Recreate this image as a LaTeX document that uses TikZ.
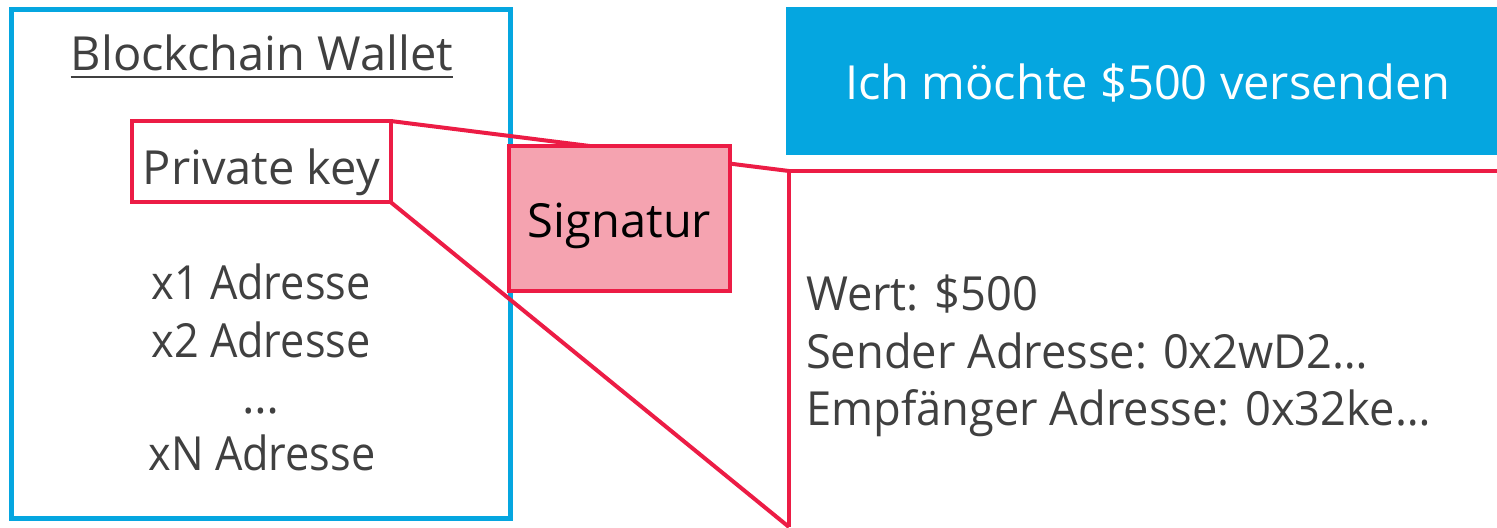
\documentclass[tikz,border=0pt]{standalone}
\usepackage{fontspec}
\setmainfont{Open Sans}

\definecolor{walletblue}{HTML}{05A6E0}
\definecolor{keyred}{HTML}{EC1C45}
\definecolor{signpink}{HTML}{F5A3B0}
\definecolor{textgray}{HTML}{404040}

\begin{document}
\begin{tikzpicture}[x=0.5pt,y=-0.5pt,
    bigfont/.style={font=\fontsize{23.5}{28.5}\selectfont},
    plaintext/.style={bigfont,text=textgray,inner sep=0pt,outer sep=0pt},
    redframe/.style={draw=keyred,line width=2pt,inner sep=0pt,outer sep=0pt},
    redline/.style={keyred,line width=2pt}]

%% - Page size
%% - --------------------------------------

\useasboundingbox (0,0) rectangle (1497,527);

%% - Draw wallet
%% - --------------------------------------

\node[draw=walletblue,line width=2.5pt,minimum width=249.5pt,minimum height=254.75pt,inner sep=0pt,outer sep=0pt] (wallet) at (261,263.75) {};

\node[plaintext,anchor=base] (title) at (262,70) {Blockchain Wallet};
\draw[textgray,line width=1pt] ([yshift=-3.3pt]title.base west) -- ([yshift=-3.3pt]title.base east);

%% - private key box
\node[redframe,plaintext,minimum width=129.25pt,minimum height=40.5pt,text height=22.5pt,text depth=0pt] (key) at (261.25,161.5) {Private key};

%% - addresses
\node[plaintext,anchor=base,xscale=0.92] (addr1) at (261,299) {x1 Adresse};
\node[plaintext,anchor=base,xscale=0.92] (addr2) at (261,357) {x2 Adresse};
\node[plaintext,anchor=base] (dots) at (261,413) {…};
\node[plaintext,anchor=base,xscale=0.92] (addrN) at (262,470) {xN Adresse};

%% - Draw request
%% - --------------------------------------

\node[fill=walletblue,bigfont,text=white,minimum width=362pt,minimum height=74pt,inner sep=0pt,text height=18pt,text depth=0pt] (request) at (1148,81) {Ich möchte \$500 versenden};

%% - Draw transaction details
%% - --------------------------------------

\coordinate (detail top) at (789,171);
\coordinate (detail bottom) at (789,527);
\draw[redline] (1510,171) -- (detail top) -- (detail bottom);

\node[plaintext,anchor=base west,xscale=0.963] (value) at (806,310) {Wert: \$500};
\node[plaintext,anchor=base west,xscale=0.963] (sender) at (806,368) {Sender Adresse: 0x2wD2…};
\node[plaintext,anchor=base west,xscale=0.963] (receiver) at (806,425) {Empfänger Adresse: 0x32ke…};

%% - Draw zoom lines
%% - --------------------------------------

\draw[redline] (key.north east) -- (detail top);
\draw[redline] (key.south east) -- (detail bottom);

%% - Signature box
%% - --------------------------------------

\node[redframe,fill=signpink,bigfont,text=black,minimum width=110.5pt,minimum height=72.25pt,text height=18.75pt,text depth=0pt] (sign) at (619.5,218.25) {Signatur};

\end{tikzpicture}
\end{document}
